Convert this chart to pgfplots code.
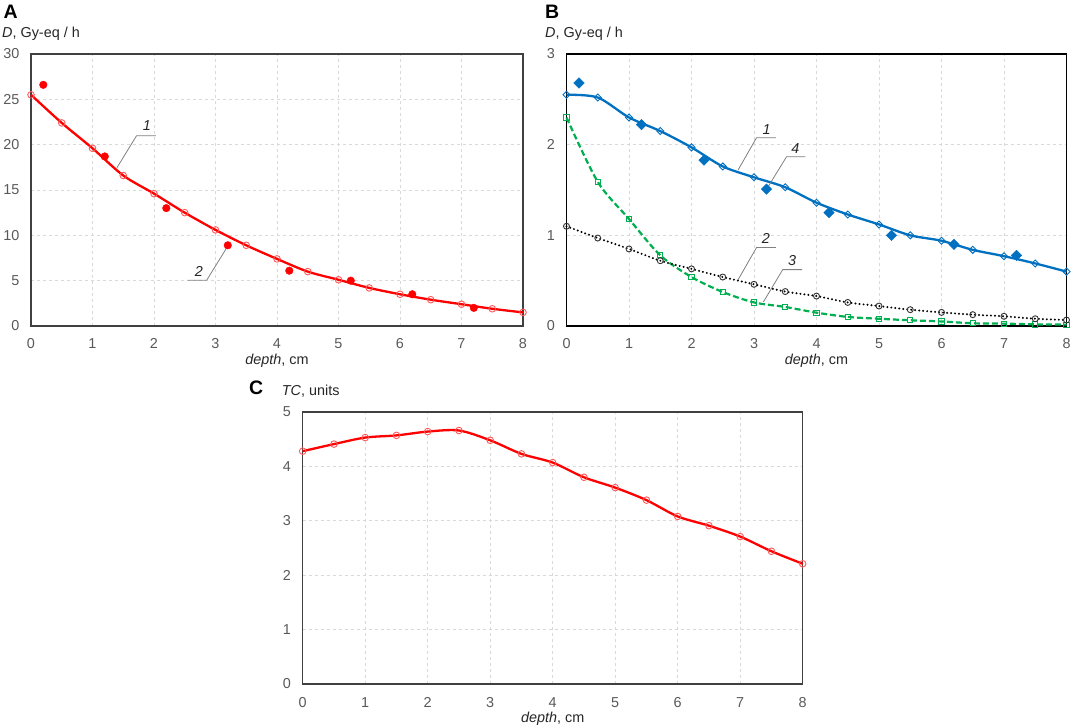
\documentclass[border=0pt]{standalone}
\usepackage{fontspec}
\setmainfont{Liberation Sans}
\usepackage{pgfplots}
\usepackage{pgfplotstable}
\pgfplotsset{compat=1.18}
\definecolor{tickgray}{HTML}{595959}
\definecolor{labgray}{HTML}{262626}
\definecolor{gridgray}{HTML}{D9D9D9}
\definecolor{framegray}{HTML}{404040}
\definecolor{leadgray}{HTML}{808080}
\definecolor{exblue}{HTML}{0070C0}
\definecolor{exgreen}{HTML}{00B050}
\definecolor{exred}{HTML}{FF0000}
\newcommand{\lfont}{\fontsize{14.4bp}{17bp}\selectfont}
\tikzset{
 lead/.style={leadgray, line width=0.8bp},
 num/.style={font=\lfont\itshape, text=labgray, inner sep=0pt, anchor=center},
}
\pgfplotsset{
 panel/.style={
  scale only axis, anchor=south west,
  xmin=0, xmax=8, xtick={0,...,8},
  grid=major,
  major grid style={gridgray, dash pattern=on 3bp off 3bp, line width=0.8bp},
  major tick length=0pt,
  axis line style={framegray, line width=1.3bp},
  tick label style={font=\lfont, text=tickgray},
  /pgf/number format/assume math mode=true,
  xticklabel style={anchor=base, inner sep=0pt, yshift=-23bp},
  yticklabel style={anchor=east, inner sep=0pt, xshift=-11.5bp},
  every axis x label/.style={at={(axis description cs:0.5,0)}, anchor=base, yshift=-38.5bp, font=\lfont, text=labgray, inner sep=0pt},
  every axis y label/.style={at={(axis description cs:0,1)}, anchor=base west, yshift=16.5bp, font=\lfont, text=labgray, inner sep=0pt},
  xlabel={\textit{depth}, cm},
  clip=false,
 },
}
\pgfplotstableread{
x A1 B1 B2 B3 C
0   25.5 2.55 1.10  2.30  4.28
0.5 22.4 2.52 0.97  1.59  4.41
1   19.6 2.30 0.85  1.18  4.53
1.5 16.6 2.15 0.72  0.78  4.57
2   14.6 1.97 0.63  0.54  4.64
2.5 12.5 1.76 0.54  0.375 4.66
3   10.6 1.64 0.46  0.26  4.48
3.5  8.9 1.53 0.38  0.21  4.23
4    7.4 1.36 0.33  0.147 4.07
4.5  6.0 1.23 0.26  0.10  3.80
5    5.1 1.12 0.22  0.08  3.61
5.5  4.2 1.00 0.18  0.063 3.38
6    3.5 0.94 0.15  0.05  3.08
6.5  2.9 0.84 0.125 0.03  2.91
7    2.4 0.77 0.107 0.026 2.71
7.5  1.9 0.69 0.08  0.018 2.44
8    1.5 0.60 0.066 0.015 2.21
}\curves
\pgfplotstableread{
x A2 B4
0.2 26.6 2.68
1.2 18.7 2.22
2.2 13.0 1.83
3.2  8.9 1.51
4.2  6.1 1.25
5.2  5.0 1.00
6.2  3.5 0.90
7.2  2.0 0.78
}\points
\begin{document}
\begin{tikzpicture}
\useasboundingbox (0,0) rectangle (1072bp,728bp);
% ---------- A ----------
\begin{axis}[panel, at={(31bp,402bp)}, width=492bp, height=272bp,
  ymin=0, ymax=30, ytick={0,5,...,30},
  ylabel={\textit{D}, Gy-eq / h},
  every axis y label/.append style={xshift=-29bp}]
\addplot[exred, line width=2.3bp, smooth, mark=o, mark size=3.3bp,
  mark options={solid, draw=exred!65, line width=0.9bp}] table[x=x, y=A1] {\curves};
\addplot[only marks, mark=*, mark size=3.8bp, mark options={fill=exred, draw=exred}] table[x=x, y=A2] {\points};
\draw[lead] (axis cs:1.397,17.45) -- (axis cs:1.716,20.98) -- (axis cs:2.03,20.98);
\node[num] at (axis cs:1.885,22.1) {1};
\draw[lead] (axis cs:3.175,8.54) -- (axis cs:2.856,5.04) -- (axis cs:2.547,5.04);
\node[num] at (axis cs:2.73,6.0) {2};
\end{axis}
% ---------- B ----------
\begin{axis}[panel, at={(566.5bp,402bp)}, width=500bp, height=272bp,
  axis line style={black, line width=1.3bp},
  ymin=0, ymax=3, ytick={0,1,2,3},
  ylabel={\textit{D}, Gy-eq / h},
  every axis y label/.append style={xshift=-21.5bp}]
\addplot[exgreen, line width=2.2bp, smooth, dash pattern=on 6bp off 3bp, mark=square, mark size=2.6bp,
  mark options={solid, draw=exgreen, fill=white, line width=0.9bp}] table[x=x, y=B3] {\curves};
\addplot[black, line width=2.2bp, smooth, line cap=round, dash pattern=on 0bp off 4bp, mark=o, mark size=3bp,
  mark options={solid, draw=black!80, fill=white, line width=0.9bp}] table[x=x, y=B2] {\curves};
\addplot[exblue, line width=2.3bp, smooth, mark=square, mark size=2.5bp,
  mark options={solid, rotate=45, draw=exblue, fill=white, line width=0.9bp}] table[x=x, y=B1] {\curves};
\addplot[only marks, mark=square*, mark size=3.7bp, mark options={rotate=45, fill=exblue, draw=exblue}] table[x=x, y=B4] {\points};
\draw[lead] (axis cs:2.745,1.72) -- (axis cs:3.04,2.076) -- (axis cs:3.35,2.076);
\node[num] at (axis cs:3.20,2.17) {1};
\draw[lead] (axis cs:3.225,1.535) -- (axis cs:3.52,1.866) -- (axis cs:3.82,1.866);
\node[num] at (axis cs:3.66,1.96) {4};
\draw[lead] (axis cs:2.745,0.51) -- (axis cs:3.04,0.865) -- (axis cs:3.35,0.865);
\node[num] at (axis cs:3.19,0.96) {2};
\draw[lead] (axis cs:3.15,0.265) -- (axis cs:3.46,0.622) -- (axis cs:3.77,0.622);
\node[num] at (axis cs:3.61,0.72) {3};
\end{axis}
% ---------- C ----------
\begin{axis}[panel, at={(302.7bp,44bp)}, width=500bp, height=272bp,
  ymin=0, ymax=5, ytick={0,...,5},
  ylabel={\textit{TC}, units},
  every axis y label/.append style={xshift=-21bp}]
\addplot[exred, line width=2.3bp, smooth, mark=o, mark size=3.3bp,
  mark options={solid, draw=exred!65, line width=0.9bp}] table[x=x, y=C] {\curves};
\end{axis}
\node[anchor=base west, inner sep=0pt, font=\fontsize{19.5bp}{22bp}\selectfont\bfseries] at (3.5bp,709.7bp) {A};
\node[anchor=base west, inner sep=0pt, font=\fontsize{19.5bp}{22bp}\selectfont\bfseries] at (545bp,709.7bp) {B};
\node[anchor=base west, inner sep=0pt, font=\fontsize{19.5bp}{22bp}\selectfont\bfseries] at (249bp,333bp) {C};
\end{tikzpicture}
\end{document}
